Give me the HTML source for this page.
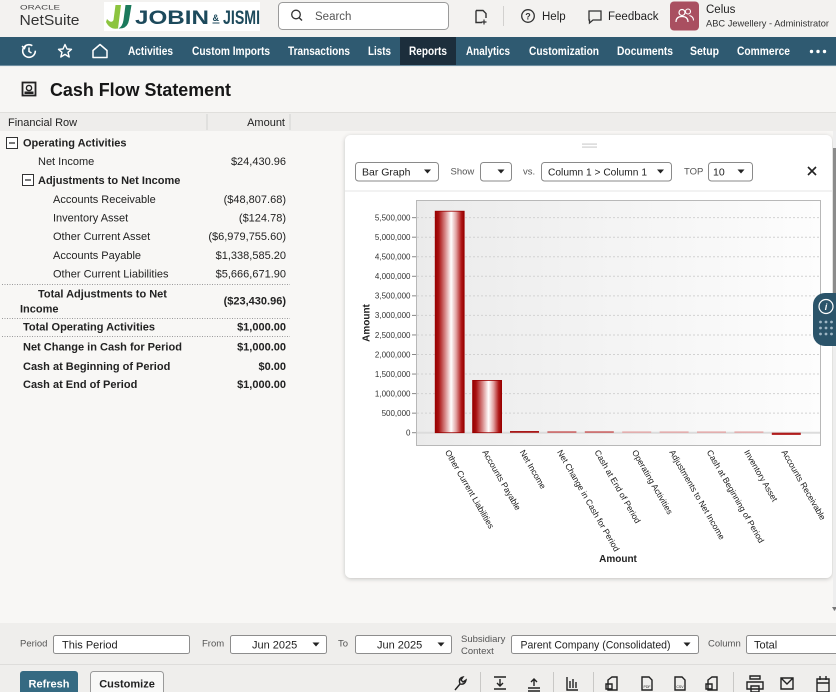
<!DOCTYPE html>
<html><head><meta charset="utf-8">
<style>
html,body{margin:0;padding:0;background:#f7f6f4;overflow:hidden;}
svg{display:block;font-family:"Liberation Sans",Arial,sans-serif;}
</style></head>
<body>
<svg width="836" height="692" viewBox="0 0 836 692" xmlns="http://www.w3.org/2000/svg">
<defs>
  <linearGradient id="barG" x1="0" y1="0" x2="1" y2="0">
    <stop offset="0" stop-color="#960000"/>
    <stop offset="0.12" stop-color="#a81010"/>
    <stop offset="0.35" stop-color="#d98c8c"/>
    <stop offset="0.55" stop-color="#ffffff"/>
    <stop offset="0.72" stop-color="#e2a2a2"/>
    <stop offset="0.9" stop-color="#b01818"/>
    <stop offset="1" stop-color="#960000"/>
  </linearGradient>
  <linearGradient id="plotG" x1="0" y1="0" x2="1" y2="0">
    <stop offset="0" stop-color="#ebebeb"/>
    <stop offset="1" stop-color="#fdfdfd"/>
  </linearGradient>
  <filter id="sh" x="-5%" y="-5%" width="110%" height="110%">
    <feDropShadow dx="0" dy="1" stdDeviation="2" flood-color="#000" flood-opacity="0.22"/>
  </filter>
</defs>

<!-- backgrounds -->
<rect x="0" y="0" width="836" height="37" fill="#f3f2f0"/>
<rect x="0" y="37" width="836" height="29" fill="#2f5a71"/>
<rect x="400" y="37" width="56" height="29" fill="#1c2e3c"/>
<rect x="0" y="65" width="836" height="1.2" fill="#6f8ea0"/>
<rect x="0" y="66.2" width="836" height="46" fill="#f7f6f4"/>
<rect x="0" y="112" width="836" height="19" fill="#eeedeb"/>
<rect x="0" y="112" width="836" height="1" fill="#e0dfdc"/>
<rect x="0" y="131" width="836" height="492" fill="#f8f7f5"/>
<rect x="0" y="623" width="836" height="69" fill="#efeeec"/>
<rect x="0" y="664" width="836" height="1" fill="#dedddb"/>

<!-- logos -->
<text x="20" y="9.5" font-size="6.5" fill="#444" textLength="40" lengthAdjust="spacingAndGlyphs">ORACLE</text>
<text x="19.5" y="25" font-size="15" fill="#333" textLength="60" lengthAdjust="spacingAndGlyphs">NetSuite</text>
<rect x="104" y="2" width="156" height="29" fill="#ffffff"/>
<path d="M106,22 Q110,30 118,28.5 L121,5 L115.5,5 L113.5,20 Q111.5,24 107,19 Z" fill="#8cc43f"/>
<path d="M118.5,28.5 Q127.5,29 129,20 L131.5,5 L125.5,5 L123.5,20 Q122.5,26.5 118.5,28.5 Z" fill="#1b7a5c"/>
<text x="135" y="24" font-size="19" font-weight="bold" fill="#1d4a5c" textLength="74" lengthAdjust="spacingAndGlyphs">JOBIN</text>
<text x="212.5" y="21" font-size="9" font-weight="bold" fill="#1d4a5c">&amp;</text>
<rect x="212.5" y="22.5" width="7" height="1" fill="#1d4a5c"/>
<text x="223" y="24" font-size="19" font-weight="bold" fill="#1d4a5c" textLength="37" lengthAdjust="spacingAndGlyphs">JISMI</text>

<!-- search -->
<rect x="278.5" y="2.5" width="170" height="27" rx="4" fill="#fff" stroke="#9a9a9a"/>
<circle cx="296" cy="14.5" r="4.3" fill="none" stroke="#333" stroke-width="1.3"/>
<line x1="299.2" y1="17.7" x2="302" y2="20.5" stroke="#333" stroke-width="1.4"/>
<text x="315" y="20" font-size="11.5" fill="#555">Search</text>

<!-- right header -->
<path d="M476,10.5 L483,10.5 L486,13.5 L486,18 M476,10.5 L476,22.5 L482,22.5" fill="none" stroke="#333" stroke-width="1.4"/>
<path d="M484,19.5 L484,24.5 M481.5,22 L486.5,22" stroke="#333" stroke-width="1.2"/>
<rect x="503" y="6" width="1" height="20" fill="#d2d1cf"/>
<circle cx="528" cy="16" r="6.3" fill="none" stroke="#333" stroke-width="1.3"/>
<text x="528" y="19.5" font-size="9" font-weight="bold" fill="#333" text-anchor="middle">?</text>
<text x="542" y="20" font-size="11.5" fill="#222">Help</text>
<path d="M589,11 L601,11 L601,20 L593,20 L589.5,23 L589.5,20 L589,20 Z" fill="none" stroke="#333" stroke-width="1.3"/>
<text x="608" y="20" font-size="11.5" fill="#222">Feedback</text>
<rect x="670" y="1.5" width="29" height="29" rx="4" fill="#a94f60"/>
<circle cx="682" cy="12.5" r="3" fill="none" stroke="#fff" stroke-width="1.2"/>
<path d="M676,22 Q676,16.5 682,16.5 Q688,16.5 688,22" fill="none" stroke="#fff" stroke-width="1.2"/>
<circle cx="688" cy="11.5" r="2.5" fill="none" stroke="#fff" stroke-width="1.1"/>
<path d="M689.5,15.5 Q693.5,16.5 693.5,20.5" fill="none" stroke="#fff" stroke-width="1.1"/>
<text x="706" y="13" font-size="11.5" fill="#222">Celus</text>
<text x="706" y="26.5" font-size="9.3" fill="#333">ABC Jewellery - Administrator</text>

<!-- nav icons -->
<circle cx="29" cy="51" r="6.3" fill="none" stroke="#fff" stroke-width="1.6" stroke-dasharray="33 6"/>
<path d="M29,47.5 L29,51.5 L31.5,53" fill="none" stroke="#fff" stroke-width="1.5"/>
<path d="M22,46 L24.5,48.5 L26,45" fill="none" stroke="#fff" stroke-width="1.4"/>
<polygon points="65,44.5 67,49 71.5,49.3 68,52.3 69.2,57 65,54.4 60.8,57 62,52.3 58.5,49.3 63,49" fill="none" stroke="#fff" stroke-width="1.4" stroke-linejoin="round"/>
<path d="M93,50.5 L100,44.5 L107,50.5 L107,57.5 L93,57.5 Z" fill="none" stroke="#fff" stroke-width="1.5" stroke-linejoin="round"/>
<g font-size="11.5" font-weight="bold" fill="#fff">
<text x="128" y="55" textLength="45" lengthAdjust="spacingAndGlyphs">Activities</text>
<text x="192" y="55" textLength="78" lengthAdjust="spacingAndGlyphs">Custom Imports</text>
<text x="288" y="55" textLength="62" lengthAdjust="spacingAndGlyphs">Transactions</text>
<text x="368" y="55" textLength="23" lengthAdjust="spacingAndGlyphs">Lists</text>
<text x="409" y="55" textLength="38" lengthAdjust="spacingAndGlyphs">Reports</text>
<text x="466" y="55" textLength="44" lengthAdjust="spacingAndGlyphs">Analytics</text>
<text x="529" y="55" textLength="70" lengthAdjust="spacingAndGlyphs">Customization</text>
<text x="617" y="55" textLength="56" lengthAdjust="spacingAndGlyphs">Documents</text>
<text x="690" y="55" textLength="29" lengthAdjust="spacingAndGlyphs">Setup</text>
<text x="737" y="55" textLength="53" lengthAdjust="spacingAndGlyphs">Commerce</text>
</g>
<circle cx="811.5" cy="51.5" r="1.7" fill="#fff"/>
<circle cx="818" cy="51.5" r="1.7" fill="#fff"/>
<circle cx="824.5" cy="51.5" r="1.7" fill="#fff"/>

<!-- title -->
<rect x="22.5" y="82.5" width="13" height="13" fill="none" stroke="#222" stroke-width="1.8"/>
<circle cx="29" cy="88" r="2.6" fill="none" stroke="#222" stroke-width="1.4"/>
<rect x="24.5" y="91.5" width="9" height="2.5" fill="#222"/>
<text x="50" y="96" font-size="18" font-weight="bold" fill="#161616" textLength="181" lengthAdjust="spacingAndGlyphs">Cash Flow Statement</text>

<!-- table header -->
<text x="8" y="126" font-size="11" fill="#222">Financial Row</text>
<text x="285" y="126" font-size="11" fill="#222" text-anchor="end">Amount</text>
<rect x="206.5" y="114" width="1" height="16" fill="#d3d2d0"/>
<rect x="289.5" y="114" width="1" height="16" fill="#d3d2d0"/>

<!-- table rows -->
<rect x="6.5" y="137.5" width="11" height="11" fill="#fff" stroke="#333"/>
<line x1="9" y1="143" x2="15" y2="143" stroke="#333" stroke-width="1.3"/>
<rect x="22.5" y="174.5" width="11" height="11" fill="#fff" stroke="#333"/>
<line x1="25" y1="180" x2="31" y2="180" stroke="#333" stroke-width="1.3"/>
<g font-size="11" fill="#222">
<text x="23" y="146.7" font-weight="bold">Operating Activities</text>
<text x="38" y="165">Net Income</text>
<text x="286" y="165" text-anchor="end">$24,430.96</text>
<text x="38" y="184" font-weight="bold">Adjustments to Net Income</text>
<text x="53" y="203">Accounts Receivable</text>
<text x="286" y="203" text-anchor="end">($48,807.68)</text>
<text x="53" y="221.3">Inventory Asset</text>
<text x="286" y="221.3" text-anchor="end">($124.78)</text>
<text x="53" y="240">Other Current Asset</text>
<text x="286" y="240" text-anchor="end">($6,979,755.60)</text>
<text x="53" y="259">Accounts Payable</text>
<text x="286" y="259" text-anchor="end">$1,338,585.20</text>
<text x="53" y="277.7">Other Current Liabilities</text>
<text x="286" y="277.7" text-anchor="end">$5,666,671.90</text>
<text x="38" y="297.3" font-weight="bold">Total Adjustments to Net</text>
<text x="20" y="312.7" font-weight="bold">Income</text>
<text x="286" y="304.7" text-anchor="end" font-weight="bold">($23,430.96)</text>
<text x="23" y="330.7" font-weight="bold">Total Operating Activities</text>
<text x="286" y="330.7" text-anchor="end" font-weight="bold">$1,000.00</text>
<text x="23" y="350.7" font-weight="bold">Net Change in Cash for Period</text>
<text x="286" y="350.7" text-anchor="end" font-weight="bold">$1,000.00</text>
<text x="23" y="370" font-weight="bold">Cash at Beginning of Period</text>
<text x="286" y="370" text-anchor="end" font-weight="bold">$0.00</text>
<text x="23" y="388" font-weight="bold">Cash at End of Period</text>
<text x="286" y="388" text-anchor="end" font-weight="bold">$1,000.00</text>
</g>
<g stroke="#9a9a9a" stroke-dasharray="1 1.5">
<line x1="2" y1="284.5" x2="290" y2="284.5"/>
<line x1="2" y1="318.5" x2="290" y2="318.5"/>
<line x1="2" y1="336.5" x2="290" y2="336.5"/>
</g>

<!-- chart panel -->
<rect x="345" y="135" width="487" height="443" rx="6" fill="#fff" filter="url(#sh)"/>
<rect x="582" y="143.5" width="15" height="1.2" fill="#cfcfcf"/>
<rect x="582" y="146.5" width="15" height="1.2" fill="#cfcfcf"/>
<rect x="345" y="190.5" width="487" height="1" fill="#e6e6e6"/>

<!-- controls -->
<g font-size="10.5" fill="#222">
<rect x="355.5" y="162.5" width="83" height="18.5" rx="3" fill="#fff" stroke="#8a8a8a"/>
<text x="362" y="175.5">Bar Graph</text>
<polygon points="424,169.5 431,169.5 427.5,173.5" fill="#222"/>
<text x="450.5" y="174.5" font-size="9.5" fill="#555">Show</text>
<rect x="480.5" y="162.5" width="31" height="18.5" rx="3" fill="#fff" stroke="#8a8a8a"/>
<polygon points="497.5,169.5 504.5,169.5 501,173.5" fill="#222"/>
<text x="523" y="174.5" font-size="9.5" fill="#555">vs.</text>
<rect x="541.5" y="162.5" width="130" height="18.5" rx="3" fill="#fff" stroke="#8a8a8a"/>
<text x="548" y="175.5" textLength="99" lengthAdjust="spacingAndGlyphs">Column 1 &gt; Column 1</text>
<polygon points="657,169.5 664,169.5 660.5,173.5" fill="#222"/>
<text x="684" y="174.5" font-size="9.5" fill="#555">TOP</text>
<rect x="708.5" y="162.5" width="44" height="18.5" rx="3" fill="#fff" stroke="#8a8a8a"/>
<text x="713" y="175.5">10</text>
<polygon points="737.5,169.5 744.5,169.5 741,173.5" fill="#222"/>
</g>
<path d="M808,167 L816,175 M816,167 L808,175" stroke="#222" stroke-width="1.6"/>

<!-- plot -->
<rect x="416.5" y="200.5" width="404" height="245" fill="url(#plotG)" stroke="#b8b8b8"/>
<g stroke="#d2d2d2" stroke-dasharray="2 2">
<line x1="417" y1="413.15" x2="820" y2="413.15"/>
<line x1="417" y1="393.6" x2="820" y2="393.6"/>
<line x1="417" y1="374.05" x2="820" y2="374.05"/>
<line x1="417" y1="354.5" x2="820" y2="354.5"/>
<line x1="417" y1="334.95" x2="820" y2="334.95"/>
<line x1="417" y1="315.4" x2="820" y2="315.4"/>
<line x1="417" y1="295.85" x2="820" y2="295.85"/>
<line x1="417" y1="276.3" x2="820" y2="276.3"/>
<line x1="417" y1="256.75" x2="820" y2="256.75"/>
<line x1="417" y1="237.2" x2="820" y2="237.2"/>
<line x1="417" y1="217.65" x2="820" y2="217.65"/>
</g>
<line x1="417" y1="432.7" x2="820" y2="432.7" stroke="#dcdcdc" stroke-width="2"/>
<g stroke="#888">
<line x1="412" y1="432.7" x2="416" y2="432.7"/>
<line x1="412" y1="413.15" x2="416" y2="413.15"/>
<line x1="412" y1="393.6" x2="416" y2="393.6"/>
<line x1="412" y1="374.05" x2="416" y2="374.05"/>
<line x1="412" y1="354.5" x2="416" y2="354.5"/>
<line x1="412" y1="334.95" x2="416" y2="334.95"/>
<line x1="412" y1="315.4" x2="416" y2="315.4"/>
<line x1="412" y1="295.85" x2="416" y2="295.85"/>
<line x1="412" y1="276.3" x2="416" y2="276.3"/>
<line x1="412" y1="256.75" x2="416" y2="256.75"/>
<line x1="412" y1="237.2" x2="416" y2="237.2"/>
<line x1="412" y1="217.65" x2="416" y2="217.65"/>
</g>
<g font-size="8" fill="#333" text-anchor="end">
<text x="410.5" y="435.5">0</text>
<text x="410.5" y="416">500,000</text>
<text x="410.5" y="396.4">1,000,000</text>
<text x="410.5" y="376.9">1,500,000</text>
<text x="410.5" y="357.3">2,000,000</text>
<text x="410.5" y="337.8">2,500,000</text>
<text x="410.5" y="318.2">3,000,000</text>
<text x="410.5" y="298.7">3,500,000</text>
<text x="410.5" y="279.1">4,000,000</text>
<text x="410.5" y="259.6">4,500,000</text>
<text x="410.5" y="240">5,000,000</text>
<text x="410.5" y="220.5">5,500,000</text>
</g>
<text x="369.5" y="323" font-size="10" font-weight="bold" fill="#222" text-anchor="middle" transform="rotate(-90 369.5 323)">Amount</text>

<!-- bars -->
<rect x="435.2" y="211.2" width="29" height="221.5" fill="url(#barG)" stroke="#9a0000" stroke-width="0.8"/>
<rect x="472.6" y="380.4" width="29" height="52.3" fill="url(#barG)" stroke="#9a0000" stroke-width="0.8"/>
<rect x="510" y="431" width="29" height="1.8" fill="#a81818"/>
<rect x="547.4" y="431.3" width="29" height="1.5" fill="#c85a5a"/>
<rect x="584.8" y="431.3" width="29" height="1.5" fill="#c85a5a"/>
<rect x="622.2" y="431.4" width="29" height="1.5" fill="#e3a9a9"/>
<rect x="659.6" y="431.4" width="29" height="1.5" fill="#e3a9a9"/>
<rect x="697" y="431.4" width="29" height="1.5" fill="#e3a9a9"/>
<rect x="734.4" y="431.4" width="29" height="1.5" fill="#e3a9a9"/>
<rect x="771.8" y="432.7" width="29" height="2.2" fill="#b01c1c"/>

<!-- x labels -->
<g font-size="8.5" fill="#1a1a1a">
<text x="444.7" y="452" transform="rotate(60 444.7 452)">Other Current Liabilities</text>
<text x="482.1" y="452" transform="rotate(60 482.1 452)">Accounts Payable</text>
<text x="519.5" y="452" transform="rotate(60 519.5 452)">Net Income</text>
<text x="556.9" y="452" transform="rotate(60 556.9 452)">Net Change in Cash for Period</text>
<text x="594.3" y="452" transform="rotate(60 594.3 452)">Cash at End of Period</text>
<text x="631.7" y="452" transform="rotate(60 631.7 452)">Operating Activities</text>
<text x="669.1" y="452" transform="rotate(60 669.1 452)">Adjustments to Net Income</text>
<text x="706.5" y="452" transform="rotate(60 706.5 452)">Cash at Beginning of Period</text>
<text x="743.9" y="452" transform="rotate(60 743.9 452)">Inventory Asset</text>
<text x="781.3" y="452" transform="rotate(60 781.3 452)">Accounts Receivable</text>
</g>
<text x="618" y="562" font-size="10" font-weight="bold" fill="#222" text-anchor="middle">Amount</text>

<!-- scrollbar -->
<rect x="833" y="131" width="3" height="480" fill="#eeeeee"/>
<rect x="833" y="148" width="3" height="145" fill="#8c8c8c"/>
<polygon points="834.5,607 837,611 832,611" fill="#777" transform="rotate(180 834.5 609)"/>

<!-- info widget -->
<rect x="813" y="293" width="34" height="53" rx="12" fill="#2b546a"/>
<circle cx="826" cy="306.5" r="7" fill="none" stroke="#fff" stroke-width="1.2"/>
<text x="826" y="310" font-size="9" font-style="italic" font-weight="bold" fill="#fff" text-anchor="middle">i</text>
<g fill="#9fb6c4">
<circle cx="820.5" cy="322" r="1.4"/><circle cx="826" cy="322" r="1.4"/><circle cx="831.5" cy="322" r="1.4"/>
<circle cx="820.5" cy="328" r="1.4"/><circle cx="826" cy="328" r="1.4"/><circle cx="831.5" cy="328" r="1.4"/>
<circle cx="820.5" cy="334" r="1.4"/><circle cx="826" cy="334" r="1.4"/><circle cx="831.5" cy="334" r="1.4"/>
</g>

<!-- filter row -->
<g font-size="9.5" fill="#555">
<text x="20" y="646.5">Period</text>
<text x="202" y="646.5">From</text>
<text x="338" y="646.5">To</text>
<text x="461" y="642">Subsidiary</text>
<text x="461" y="654">Context</text>
<text x="708" y="646.5">Column</text>
</g>
<g fill="#fff" stroke="#8d8d8d">
<rect x="53.5" y="635.5" width="136" height="18" rx="2"/>
<rect x="230.5" y="635.5" width="96" height="18" rx="2"/>
<rect x="355.5" y="635.5" width="96" height="18" rx="2"/>
<rect x="511.5" y="635.5" width="187" height="18" rx="2"/>
<rect x="746.5" y="635.5" width="100" height="18" rx="2"/>
</g>
<g font-size="11" fill="#222">
<text x="62" y="648.5">This Period</text>
<text x="252" y="648.5">Jun 2025</text>
<text x="377" y="648.5">Jun 2025</text>
<text x="520.5" y="648.5" textLength="150" lengthAdjust="spacingAndGlyphs">Parent Company (Consolidated)</text>
<text x="754" y="648.5">Total</text>
</g>
<polygon points="312.5,642.5 319.5,642.5 316,646.5" fill="#222"/>
<polygon points="437.5,642.5 444.5,642.5 441,646.5" fill="#222"/>
<polygon points="683.5,642.5 690.5,642.5 687,646.5" fill="#222"/>

<!-- buttons -->
<rect x="20" y="671" width="58" height="26" rx="3" fill="#356a82"/>
<text x="49" y="687.5" font-size="11" font-weight="bold" fill="#fff" text-anchor="middle">Refresh</text>
<rect x="90.5" y="671.5" width="73" height="25" rx="3" fill="#f8f8f7" stroke="#9a9a9a"/>
<text x="127" y="687.5" font-size="11" font-weight="bold" fill="#222" text-anchor="middle">Customize</text>

<!-- toolbar icons -->
<g fill="none" stroke="#222" stroke-width="1.4">
<path d="M455,690 L460,684 M460,684 Q458,678 463,677 L461,680 L463,682 L466,680 Q465,685 460,684"/>
<path d="M494,677 L506,677 M500,679 L500,686 M497,683 L500,686 L503,683 M494,689 L506,689"/>
<path d="M528,688 L540,688 M534,686 L534,679 M531,682 L534,679 L537,682 M528,691 L540,691"/>
<path d="M567,677 L567,690 L578,690 M570,681 L570,688 M573,679 L573,688 M576,682 L576,688"/>
<path d="M608,680 L612,677 L617,677 L617,690 L608,690 Z M606,684 L612,684 L612,689 L606,689 Z"/>
<path d="M642,677 L649,677 L652,680 L652,690 L642,690 Z"/>
<path d="M675,677 L682,677 L685,680 L685,690 L675,690 Z"/>
<path d="M708,680 L712,677 L717,677 L717,690 L708,690 Z M706,684 L712,684 L712,689 L706,689 Z"/>
<path d="M750,679 L760,679 L760,676 L750,676 Z M747,682 L763,682 L763,689 L747,689 Z M751,686 L759,686 L759,692 L751,692 Z"/>
<path d="M781,678 L793,678 L793,689 L781,689 Z M781,678 L787,684 L793,678"/>
<path d="M817,679 L829,679 L829,692 L817,692 Z M817,683 L829,683 M820,676 L820,680 M826,676 L826,680"/>
</g>
<text x="647" y="688" font-size="3.5" fill="#222" text-anchor="middle">PDF</text>
<text x="680" y="688" font-size="3.5" fill="#222" text-anchor="middle">CSV</text>
<g fill="#c9c8c6">
<rect x="480" y="672" width="1" height="20"/>
<rect x="553" y="672" width="1" height="20"/>
<rect x="593" y="672" width="1" height="20"/>
<rect x="733" y="672" width="1" height="20"/>
</g>
</svg>
</body></html>
